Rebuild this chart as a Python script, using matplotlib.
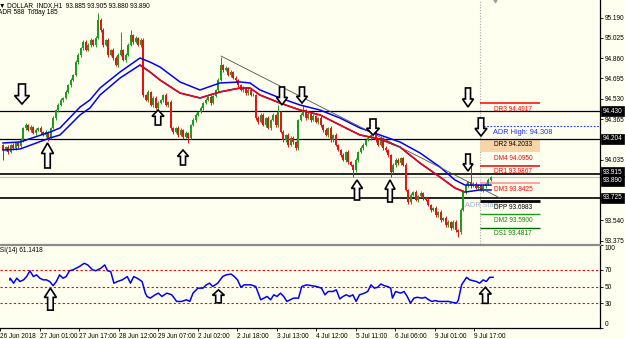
import numpy as np
import matplotlib
matplotlib.use('Agg')
import matplotlib.pyplot as plt
from matplotlib.patches import Polygon
import matplotlib.transforms as mtransforms

plt.rcParams['font.family'] = ['Liberation Sans Narrow', 'Liberation Sans', 'DejaVu Sans']

W, H = 625, 339
BG = '#FFFFF0'
GREEN = '#1e9a1e'
RED = '#e81010'

# ---------------- data ----------------
first_open = 94.150
close = [
    94.113, 94.137, 94.097, 94.154, 94.129, 94.170, 94.146, 94.194, 94.292, 94.316,
    94.276, 94.300, 94.251, 94.276, 94.292, 94.259, 94.235, 94.259, 94.211, 94.292,
    94.373, 94.438, 94.479, 94.520, 94.536, 94.585, 94.641, 94.682, 94.723, 94.828,
    94.885, 94.942, 94.991, 94.926, 94.967, 95.007, 94.967, 95.024, 95.170, 95.089,
    94.967, 95.007, 94.885, 94.926, 94.861, 94.804, 94.885, 94.926, 94.845, 94.885,
    94.967, 95.048, 94.991, 95.024, 94.967, 95.007, 94.560, 94.520, 94.585, 94.479,
    94.536, 94.455, 94.495, 94.520, 94.560, 94.479, 94.503, 94.292, 94.259, 94.292,
    94.235, 94.276, 94.219, 94.251, 94.211, 94.316, 94.357, 94.398, 94.422, 94.455,
    94.495, 94.520, 94.544, 94.495, 94.552, 94.601, 94.682, 94.804, 94.763, 94.780,
    94.723, 94.747, 94.698, 94.682, 94.641, 94.601, 94.617, 94.576, 94.601, 94.560,
    94.560, 94.373, 94.341, 94.398, 94.316, 94.373, 94.292, 94.357, 94.398, 94.316,
    94.422, 94.259, 94.194, 94.235, 94.154, 94.211, 94.178, 94.129, 94.357, 94.398,
    94.438, 94.373, 94.406, 94.357, 94.389, 94.341, 94.373, 94.316, 94.276, 94.235,
    94.292, 94.194, 94.235, 94.154, 94.113, 94.072, 94.032, 94.097, 94.015, 93.991,
    93.950, 94.032, 94.097, 94.129, 94.154, 94.194, 94.211, 94.235, 94.259, 94.194,
    94.154, 94.211, 94.129, 94.113, 94.072, 93.934, 93.991, 94.032, 94.007, 94.048,
    93.991, 93.788, 93.690, 93.747, 93.771, 93.706, 93.739, 93.763, 93.723, 93.706,
    93.666, 93.625, 93.641, 93.584, 93.609, 93.544, 93.560, 93.503, 93.528, 93.479,
    93.528, 93.463, 93.446, 93.625, 93.771, 93.828, 93.853, 93.820, 93.837, 93.804,
    93.828, 93.788, 93.820, 93.837, 93.869, 93.890,
]
# upper / lower wick lengths in thousandths
wick_up = [
    15, 12, 18, 10, 14, 12, 16, 20, 12, 15,
    10, 14, 12, 18, 10, 15, 12, 14, 10, 12,
    15, 10, 14, 12, 10, 15, 12, 18, 10, 14,
    16, 12, 15, 20, 12, 15, 10, 12, 57, 20,
    15, 12, 18, 10, 14, 20, 16, 144, 12, 15,
    18, 41, 12, 14, 10, 15, 20, 12, 15, 10,
    14, 12, 16, 10, 12, 15, 10, 14, 12, 10,
    15, 12, 10, 14, 12, 10, 15, 12, 10, 14,
    12, 15, 10, 14, 12, 10, 15, 65, 12, 15,
    10, 14, 12, 15, 10, 12, 14, 10, 15, 12,
    14, 10, 15, 12, 18, 10, 14, 12, 15, 10,
    57, 12, 15, 10, 14, 12, 15, 10, 12, 15,
    41, 12, 14, 10, 15, 12, 10, 14, 12, 15,
    10, 14, 12, 15, 10, 12, 14, 10, 15, 12,
    12, 15, 10, 14, 12, 10, 15, 12, 17, 14,
    12, 15, 10, 14, 12, 10, 15, 12, 14, 10,
    12, 15, 10, 14, 12, 15, 10, 14, 12, 10,
    15, 12, 10, 14, 12, 15, 10, 14, 12, 10,
    15, 12, 10, 14, 12, 15, 10, 154, 12, 14,
    10, 12, 15, 10, 14, 15,
]
wick_dn = [
    80, 12, 15, 10, 14, 12, 16, 10, 12, 15,
    12, 14, 10, 15, 12, 18, 10, 14, 25, 12,
    10, 15, 12, 10, 14, 12, 10, 15, 12, 10,
    14, 12, 15, 10, 12, 14, 10, 15, 12, 18,
    14, 12, 15, 10, 16, 12, 14, 10, 12, 15,
    10, 12, 15, 12, 10, 14, 15, 12, 15, 10,
    14, 12, 10, 12, 15, 10, 14, 20, 12, 10,
    15, 12, 14, 10, 41, 12, 10, 14, 12, 10,
    15, 12, 10, 14, 12, 10, 15, 12, 14, 10,
    12, 15, 10, 14, 12, 10, 15, 12, 14, 10,
    12, 20, 14, 12, 10, 15, 12, 14, 10, 12,
    15, 10, 14, 12, 15, 10, 14, 15, 12, 10,
    12, 15, 10, 14, 12, 10, 15, 12, 14, 10,
    15, 12, 14, 10, 12, 15, 10, 14, 12, 10,
    57, 12, 15, 10, 14, 12, 10, 15, 12, 14,
    10, 12, 15, 14, 12, 41, 10, 14, 12, 15,
    10, 12, 15, 14, 12, 10, 15, 12, 14, 10,
    12, 15, 10, 14, 12, 15, 10, 14, 12, 15,
    10, 14, 40, 12, 10, 15, 12, 14, 10, 12,
    15, 10, 14, 12, 10, 5,
]

time_labels = ['26 Jun 2018', '27 Jun 01:00', '27 Jun 17:00', '28 Jun 12:00', '29 Jun 07:00',
               '2 Jul 02:00', '2 Jul 18:00', '3 Jul 13:00', '4 Jul 12:00', '5 Jul 11:00',
               '6 Jul 06:00', '9 Jul 01:00', '9 Jul 17:00']
time_label_bars = [-4, 12, 28, 44, 60, 76, 92, 108, 124, 140, 156, 172, 188]

upper_ma_bar = [0, 6.8, 18.8, 22.8, 30.8, 34.8, 38.8, 46.8, 54.8, 58.8, 62.8, 70.8, 78.8, 86.8, 94.8,
                98.8, 102.8, 110.8, 118.8, 126.8, 134.8, 142.8, 150.8, 158.8, 166.8, 174.8, 180.8,
                184.8, 190.8, 195.2]
upper_ma = [94.170, 94.178, 94.259, 94.292, 94.462, 94.520, 94.617, 94.747, 94.861, 94.828, 94.788,
            94.666, 94.601, 94.658, 94.666, 94.658, 94.601, 94.536, 94.479, 94.438, 94.373, 94.292,
            94.235, 94.178, 94.089, 93.975, 93.869, 93.828, 93.828, 93.828]
lower_ma_bar = upper_ma_bar
lower_ma = [94.113, 94.121, 94.211, 94.235, 94.398, 94.455, 94.560, 94.698, 94.804, 94.747, 94.682,
            94.576, 94.536, 94.585, 94.617, 94.617, 94.560, 94.495, 94.438, 94.398, 94.316, 94.235,
            94.202, 94.137, 94.007, 93.893, 93.804, 93.771, 93.788, 93.788]
lower_red_range = (54.8, 184.8)

trend_bar = [87.2, 198.8]
trend_price = [94.877, 93.723]

level_prices = [94.430, 94.204, 93.915, 93.725]
level_widths = [0.9, 0.9, 1.2, 1.2]
bid_price = 93.890

day_start_bar = 190.8
pivot_end_bar = 214.8
pivot_names = ['DR3', 'DR2', 'DM4', 'DR1', 'DM3', 'DPP', 'DM2', 'DS1']
pivot_values = [94.4917, 94.2033, 94.0950, 93.9867, 93.8425, 93.6983, 93.5900, 93.4817]
pivot_line_colors = ['#ff0000', None, None, '#ee0000', '#ff8a8a', '#000000', '#1a9a1a', '#006400']
pivot_line_widths = [1.1, 0, 0, 1.1, 1.1, 2.0, 1.0, 1.0]
pivot_text_colors = ['#ff0000', '#000000', '#ff0000', '#ff0000', '#ff0000', '#000000', '#0a8a0a', '#0a7a0a']
adr_high = 94.308
adr_text = 'ADR High: 94.308'

rsi_bar = [0, 0.1, 1.5, 2.8, 4.1, 5.5, 6.8, 8.1, 9.5, 10.8, 12.1, 13.5, 14.8, 16.1, 17.5, 18.8, 20.1,
           21.5, 22.8, 24.1, 25.5, 26.8, 28.1, 30.1, 31.5, 33.5, 34.8, 36.8, 38.4, 39.5, 40.8, 42.1,
           43.5, 45.5, 47.5, 48.8, 50.1, 51.5, 53.5, 54.8, 55.5, 56.8, 58.8, 60.1, 61.5, 63.5, 65.5,
           67.5, 69.5, 71.5, 72.8, 74.1, 76.1, 78.1, 79.5, 80.8, 82.1, 84.1, 86.1, 87.5, 89.5, 90.8,
           92.1, 93.5, 94.8, 97.5, 99.5, 101.5, 102.8, 104.1, 105.5, 106.8, 108.1, 109.5, 110.8,
           112.1, 113.5, 114.8, 116.8, 118.1, 120.1, 122.1, 124.1, 126.1, 127.5, 128.8, 130.8,
           132.1, 133.5, 134.8, 136.1, 137.5, 138.8, 140.1, 141.5, 143.5, 144.8, 146.1, 147.5,
           148.8, 150.1, 151.5, 152.8, 154.1, 154.8, 156.1, 158.1, 159.5, 160.8, 162.1, 163.5,
           164.8, 166.8, 168.1, 169.5, 170.8, 172.1, 173.5, 174.8, 176.1, 177.5, 178.8, 180.8,
           181.5, 182.8, 184.1, 184.8, 186.1, 187.5, 188.8, 190.1, 191.5, 192.8, 194.1, 195.5]
rsi_val = [58, 60, 54, 60, 56, 58, 62, 69, 62, 64, 60, 58, 58, 56, 51, 56, 64,
           60, 62, 69, 70, 72, 74, 78, 76, 70, 69, 72, 76, 69, 68, 54,
           56, 58, 62, 54, 62, 60, 56, 42, 38, 36, 40, 42, 38, 42, 40,
           32, 32, 34, 32, 42, 48, 48, 52, 54, 50, 54, 62, 64, 65, 62,
           58, 49, 52, 52, 50, 34, 36, 38, 34, 40, 38, 42, 38,
           32, 34, 36, 36, 50, 52, 51, 50, 48, 40, 44, 44,
           46, 35, 38, 40, 38, 40, 32, 40, 42, 44, 52, 48,
           49, 53, 51, 50, 48, 36, 44, 42, 44, 38, 30, 36,
           37, 36, 37, 34, 32, 33, 32, 32, 32, 32, 31, 30,
           34, 52, 58, 61, 58, 57, 56, 54, 58, 56, 61, 61.14]
rsi_levels = [30, 50, 70]
rsi_label = 'RSI(14) 61.1418'

# visible price-scale labels (94.200 and 93.870 sit under the black level boxes)
price_ticks = [95.190, 95.025, 94.860, 94.695, 94.530, 94.365, 94.035, 93.705, 93.540, 93.375]
rsi_ticks = [0, 30, 50, 70, 100]

# arrows: panel, bar, tip value, direction, width px, height px
arrow_panel = ['p'] * 12 + ['r'] * 3
arrow_bar = [7.6, 17.8, 62.0, 72.0, 111.6, 119.6, 141.6, 148.0, 154.8, 186.0, 186.0, 191.2,
             16.4, 84.4, 192.4]
arrow_val = [94.487, 94.170, 94.438, 94.113, 94.479, 94.495, 93.869, 94.235, 93.869, 93.942,
             94.463, 94.227, 48, 46, 49]
arrow_dir = ['d', 'u', 'u', 'u', 'd', 'd', 'u', 'd', 'u', 'd', 'd', 'd', 'u', 'u', 'u']
arrow_w = [15, 12, 12, 11, 11, 11, 11, 13, 10, 10, 11, 12, 12, 12, 12]
arrow_h = [20, 25, 15, 15, 18, 16, 20, 16, 22, 17, 19, 18, 22, 13, 16]

header1 = '\u25BC DOLLAR_INDX,H1  93.885 93.905 93.880 93.890'
header2 = 'ADR 588  Today 185'
period_marker_bar = 196.8

# ---------------- figure ----------------
fig = plt.figure(figsize=(W / 100, H / 100), dpi=100, facecolor=BG)


def px_rect(x0, y0, x1, y1):
    return [x0 / W, 1 - y1 / H, (x1 - x0) / W, (y1 - y0) / H]


ax = fig.add_axes(px_rect(0, 0, 600, 244), facecolor=BG)
axr = fig.add_axes(px_rect(0, 245, 600, 328), facecolor=BG)
XL = (-1.2, 238.8)
for a in (ax, axr):
    a.set_xlim(*XL)
    for s in a.spines.values():
        s.set_visible(False)
    a.spines['right'].set_visible(True)
    a.spines['right'].set_color('black')
    a.spines['right'].set_linewidth(0.9)
YL = (93.3488, 95.3325)
ax.set_ylim(*YL)
axr.set_ylim(0, 100)
axr.spines['bottom'].set_visible(True)
axr.spines['bottom'].set_linewidth(0.9)

FS = 4.7

# price axis
ax.yaxis.tick_right()
ax.set_yticks(price_ticks, [f'{v:.3f}' for v in price_ticks])
ax.tick_params(axis='y', direction='out', length=2, width=0.6, pad=1.5, labelsize=FS)
ax.set_xticks([])

axr.yaxis.tick_right()
axr.set_yticks(rsi_ticks, [str(v) for v in rsi_ticks])
axr.tick_params(axis='y', direction='out', length=2, width=0.6, pad=1.5, labelsize=FS)
tl = axr.get_yticklabels()
tl[0].set_va('bottom')
tl[-1].set_va('top')
axr.set_xticks(time_label_bars, time_labels)
axr.tick_params(axis='x', direction='out', length=2, width=0.6, pad=1.5, labelsize=FS)
for t in axr.get_xticklabels():
    t.set_ha('left')

# horizontal levels
for p, lw in zip(level_prices, level_widths):
    ax.axhline(p, color='black', lw=lw, zorder=2)
ax.axhline(bid_price, color='#c4c4c4', lw=0.9, zorder=2)

# vertical day separator and period marker
ax.axvline(day_start_bar, color='#a8a8a8', lw=0.8, ls=(0, (1, 1.5)), zorder=1)
ax.plot([period_marker_bar], [YL[1]], marker='v', ms=3.5, color='#a0a0a0', clip_on=True, zorder=2)

# candles
c = np.array(close)
o = np.concatenate([[first_open], c[:-1]])
hi = np.maximum(o, c) + np.array(wick_up) / 1000.0
lo = np.minimum(o, c) - np.array(wick_dn) / 1000.0
idx = np.arange(len(c))
cols = np.where(c >= o, GREEN, RED)
ax.vlines(idx, lo, hi, colors=cols, lw=0.7, zorder=4)
ax.bar(idx, c - o, bottom=o, width=0.6, color=cols, lw=0, zorder=4)

# moving average band
ax.plot(upper_ma_bar, upper_ma, color='#0000ff', lw=1.1, zorder=5)
lb = np.array(lower_ma_bar)
lv = np.array(lower_ma)
ax.plot(lb, lv, color='#0000ff', lw=1.1, zorder=5)
m = (lb >= lower_red_range[0]) & (lb <= lower_red_range[1])
ax.plot(lb[m], lv[m], color='#ff0000', lw=1.1, zorder=5)

# trend line
ax.plot(trend_bar, trend_price, color='#505050', lw=0.6, zorder=5)

# pivot zone and lines
ax.fill_between([day_start_bar, pivot_end_bar], pivot_values[2], pivot_values[1],
                color='#F8D4A6', lw=0, zorder=1)
for name, v, lc, lw, tc in zip(pivot_names, pivot_values, pivot_line_colors,
                                pivot_line_widths, pivot_text_colors):
    if lc is not None:
        ax.hlines(v, day_start_bar, pivot_end_bar, color=lc, lw=lw, zorder=3)
    ax.annotate(f'{name} {v:.4f}', (196.4, v), xytext=(0, -1.8), textcoords='offset points',
                ha='left', va='top', fontsize=FS, color=tc, zorder=6)
ax.hlines(adr_high, day_start_bar, XL[1], color='#2030ff', lw=0.8, ls=(0, (1.5, 1.5)), zorder=3)
ax.annotate(adr_text, (196.0, adr_high), xytext=(0, -1.8), textcoords='offset points',
            ha='left', va='top', fontsize=FS + 0.6, color='#2030ff', zorder=6)
ax.annotate('ADR Start', (184.8, pivot_values[5]), xytext=(0, -0.5), textcoords='offset points',
            ha='left', va='top', fontsize=FS + 0.6, color='#9fb4d0', zorder=2)

# price boxes on the right
blend = mtransforms.blended_transform_factory(ax.transAxes, ax.transData)
box_specs = [(94.430, 0), (94.204, 0), (93.915, 1.6), (93.890, -2.4), (93.725, 0)]
for p, off in box_specs:
    ax.annotate(f'{p:.3f}', (1.0, p), xycoords=blend, xytext=(2.2, off), textcoords='offset points',
                ha='left', va='center', fontsize=FS, color='white', zorder=10, annotation_clip=False,
                bbox=dict(boxstyle='square,pad=0.25', fc='black', ec='black', lw=0.5))

# RSI
axr.plot(rsi_bar, rsi_val, color='#0000ff', lw=1.1, zorder=4)
for lvl in rsi_levels:
    axr.axhline(lvl, color='#ff0000', lw=0.8, ls=(0, (2, 2)), zorder=2)
axr.annotate(rsi_label, (0, 1), xycoords='axes fraction', xytext=(-3.5, -1.8),
             textcoords='offset points', ha='left', va='top', fontsize=FS, color='black')

# panel separator
fig.add_artist(plt.Line2D([0, 600 / W], [1 - 244.5 / H, 1 - 244.5 / H], color='#8c8c8c', lw=1.6))

# headers
fig.text(-1 / W, 1 - 2 / H, header1, ha='left', va='top', fontsize=FS, color='black')
fig.text(-2.5 / W, 1 - 9.5 / H, header2, ha='left', va='top', fontsize=FS, color='black')

# arrows (positions through the axes data transforms)
ov = fig.add_axes([0, 0, 1, 1], facecolor='none')
ov.set_xlim(0, W)
ov.set_ylim(H, 0)
ov.axis('off')
for pnl, b, v, d, w, h in zip(arrow_panel, arrow_bar, arrow_val, arrow_dir, arrow_w, arrow_h):
    a = ax if pnl == 'p' else axr
    dx, dy = a.transData.transform((b, v))
    tx, ty = dx, H - dy
    hh = 0.42 * h
    sw = 0.23 * w
    s = -1 if d == 'd' else 1
    verts = [(tx, ty), (tx + w / 2, ty + s * hh), (tx + sw, ty + s * hh), (tx + sw, ty + s * h),
             (tx - sw, ty + s * h), (tx - sw, ty + s * hh), (tx - w / 2, ty + s * hh)]
    ov.add_patch(Polygon(verts, closed=True, fc='white', ec='black', lw=1.2, joinstyle='miter'))

fig.savefig('out.png', dpi=100, facecolor=BG)
